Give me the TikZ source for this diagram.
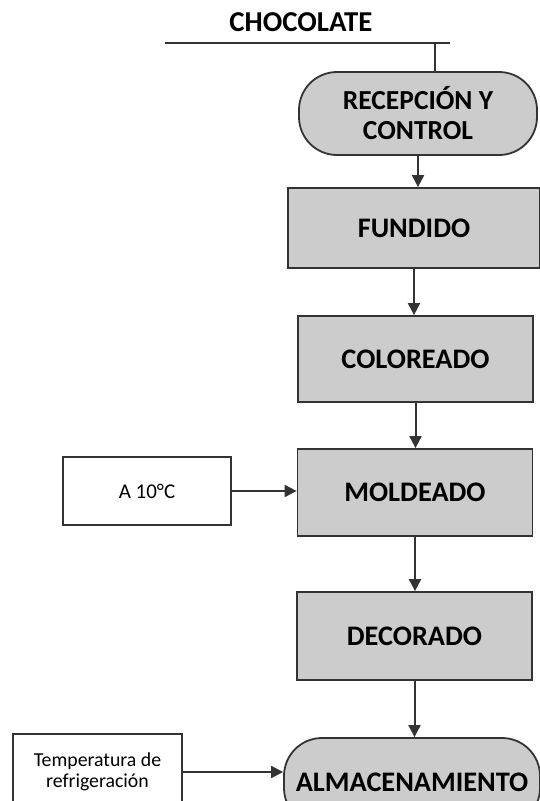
\documentclass[tikz,border=0pt]{standalone}
\usepackage{fontspec}
\setmainfont{Carlito}
\usepackage{tikz}
\usetikzlibrary{arrows.meta,positioning}
\definecolor{gris}{HTML}{CCCCCC}
\definecolor{trazo}{HTML}{333333}
\tikzset{
  proceso/.style={draw=trazo,line width=1.8pt,fill=gris,
    minimum width=235pt,minimum height=87pt,inner sep=0pt,
    align=center,font=\fontsize{28.3}{31}\selectfont\bfseries},
  terminal/.style={proceso,rounded corners=38pt},
  nota/.style={draw=trazo,line width=1.8pt,fill=white,inner sep=0pt,
    align=center,font=\fontsize{21}{23}\selectfont},
  flecha/.style={draw=trazo,line width=2pt,-{Triangle[length=12pt,width=12pt]}},
  linea/.style={draw=trazo,line width=2pt}
}

\begin{document}
\begin{tikzpicture}[x=1pt,y=-1pt]
\useasboundingbox (0,0) rectangle (540,801);
\clip (0,0) rectangle (540,801);

% entrada de materia prima
\node[font=\fontsize{28.8}{31}\selectfont\bfseries] (titulo) at (301,22) {CHOCOLATE};
\coordinate (lineaI) at (165,43);
\coordinate (lineaD) at (450,43);
\coordinate (toma) at (435,43);

% columna del proceso
\node[terminal,minimum width=238pt,minimum height=83pt,font=\fontsize{27.5}{30}\selectfont\bfseries] (recep) at (418,113.5) {RECEPCIÓN Y\\CONTROL};
\node[proceso,minimum width=252pt,minimum height=80pt] (fund) at (414,228) {FUNDIDO};
\node[proceso,minimum height=86pt] (color) at (415.5,359) {COLOREADO};
\node[proceso] (mold) at (415,492.5) {MOLDEADO};
\node[proceso,minimum height=88pt] (deco) at (414.5,636) {DECORADO};
\node[terminal,minimum width=256pt,minimum height=88pt] (alma) at (412,782) {ALMACENAMIENTO};

% condiciones
\node[nota,minimum width=168pt,minimum height=68pt] (diez) at (147,491) {A 10°C};
\node[nota,minimum width=169pt,minimum height=76pt,font=\fontsize{19.8}{21}\selectfont] (temp) at (97.5,772) {Temperatura de\\refrigeración};

% conectores
\draw[linea] (lineaI) -- (lineaD);
\draw[linea] (toma) -- (toma |- recep.north);
\draw[flecha] (recep.south) -- (recep.south |- fund.north);
\draw[flecha] (fund.south) -- (fund.south |- color.north);
\draw[flecha] (color.south) -- (color.south |- mold.north);
\draw[flecha] (mold.south) -- (mold.south |- deco.north);
\draw[flecha] (deco.south) -- (deco.south |- alma.north);
\draw[flecha] (diez.east) -- (diez.east -| mold.west);
\draw[flecha] (temp.east) -- (temp.east -| alma.west);
\end{tikzpicture}
\end{document}
